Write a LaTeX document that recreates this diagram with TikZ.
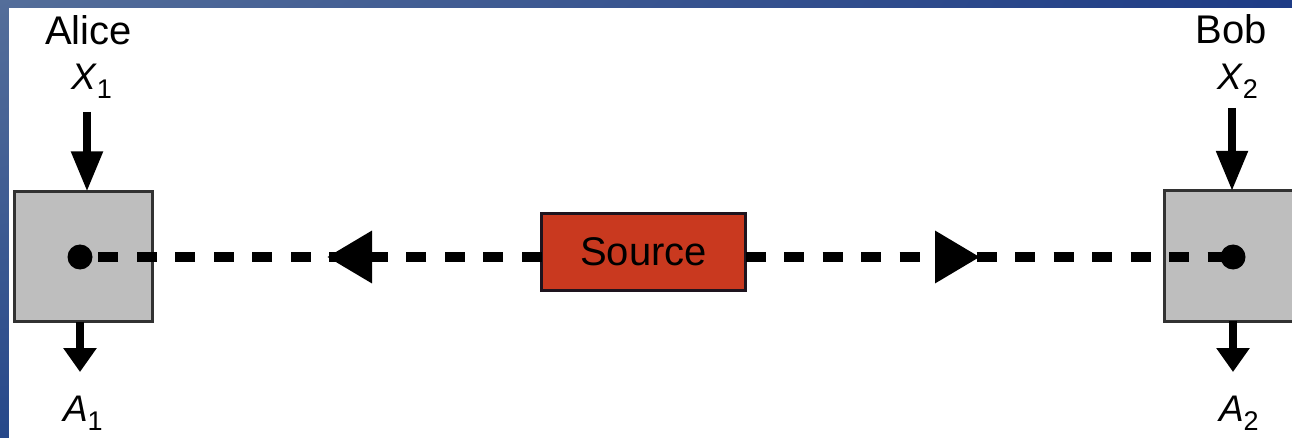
\documentclass[tikz,border=0pt]{standalone}
\usepackage{fontspec}
\setmainfont{Liberation Sans}
\usetikzlibrary{arrows.meta,decorations.markings,shadings}

\definecolor{frameTL}{RGB}{84,110,154}
\definecolor{frameTR}{RGB}{30,60,134}
\definecolor{frameBL}{RGB}{38,72,138}
\definecolor{frameBR}{RGB}{30,58,128}
\definecolor{boxgray}{RGB}{190,190,190}
\definecolor{boxedge}{RGB}{50,50,50}
\definecolor{srcred}{RGB}{201,57,31}
\definecolor{srcedge}{RGB}{30,20,30}

% variable with a lowered index, e.g. X_1
\newcommand\indexedvar[2]{\textit{#1}\raisebox{-9pt}{\fontsize{27}{27}\selectfont #2}}

\begin{document}
\begin{tikzpicture}[x=1pt,y=-1pt,
  every node/.style={inner sep=0pt, outer sep=0pt},
  partyname/.style={font=\fontsize{40}{48}\selectfont, anchor=base},
  varlabel/.style={font=\fontsize{37}{44}\selectfont, anchor=base west},
  partybox/.style={draw=boxedge, fill=boxgray, line width=3pt,
    minimum width=138pt, minimum height=130pt},
  srcbox/.style={draw=srcedge, fill=srcred, line width=3pt,
    minimum width=204pt, minimum height=77pt,
    font=\fontsize{40}{48}\selectfont},
  sitedot/.style={circle, fill=black, minimum size=25pt},
  inarrow/.style={line width=8pt, -{Triangle[width=30pt,length=40pt]}},
  outarrow/.style={line width=8pt, -{Triangle[width=32pt,length=24pt]}},
  channel/.style={line width=10pt, dash pattern=on 20pt off 18.5pt},
  midtip/.style={postaction={decorate}, decoration={markings,
    mark=at position #1 with {\arrow{Triangle[width=50pt,length=45pt]}}}}
]
\useasboundingbox (0,0) rectangle (1292,438);

% slide frame and white canvas
\shade[upper left=frameTL, upper right=frameTR,
       lower left=frameBL, lower right=frameBR] (0,0) rectangle (1292,438);
\fill[white] (9,8) rectangle (1292,438);

% parties and source
\node[partybox] (abox) at (83.5,256.5) {};
\node[partybox] (bbox) at (1233.5,256) {};
\node[srcbox] (src) at (643.5,252) {Source};

% labels
\node[partyname] (alice) at (88.5,45) {Alice};
\node[partyname] (bob) at (1231.5,44) {Bob};
\node[varlabel] (x1) at (71,90) {\indexedvar{X}{1}};
\node[varlabel] (a1) at (63,421) {\indexedvar{A}{1}};
\node[varlabel] (x2) at (1217,90) {\indexedvar{X}{2}};
\node[varlabel] (a2) at (1219,421) {\indexedvar{A}{2}};

% measurement sites
\node[sitedot] (adot) at (80,257) {};
\node[sitedot] (bdot) at (1233,257) {};

% particles sent from the source to both parties (horizontal, at the dots' height)
\draw[channel, midtip=214.5pt] (src.west |- adot.center) -- (adot.center);
\draw[channel, midtip=234.5pt] (src.east |- bdot.center) -- (bdot.center);

% inputs and outputs
\coordinate (ain) at (87,112);
\coordinate (aout) at (80,372);
\coordinate (bin) at (1232,108);
\coordinate (bout) at (1233,372);
\draw[inarrow] (ain) -- (ain |- abox.north);
\draw[outarrow] (aout |- abox.south) -- (aout);
\draw[inarrow] (bin) -- (bin |- bbox.north);
\draw[outarrow] (bout |- bbox.south) -- (bout);
\end{tikzpicture}
\end{document}
